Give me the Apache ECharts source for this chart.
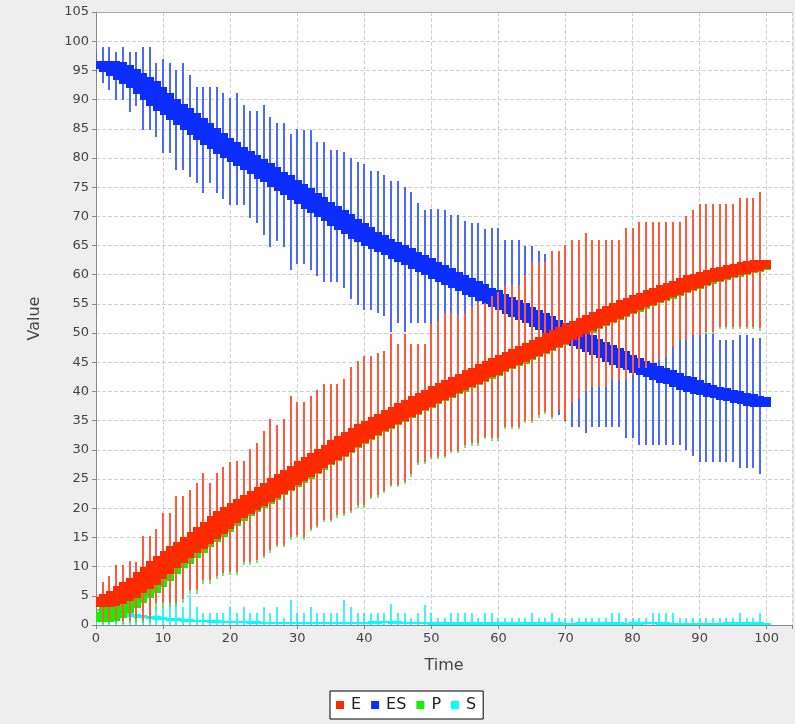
<!DOCTYPE html>
<html>
<head>
<meta charset="utf-8">
<script src="https://cdn.jsdelivr.net/npm/echarts@6/dist/echarts.min.js"></script>
<style>
html,body{margin:0;padding:0;background:#eeeeee;}
#chart{width:795px;height:724px;}
</style>
</head>
<body>
<div id="chart"></div>
<script>
const time = [0,1,2,3,4,5,6,7,8,9,10,11,12,13,14,15,16,17,18,19,20,21,22,23,24,25,26,27,28,29,30,31,32,33,34,35,36,37,38,39,40,41,42,43,44,45,46,47,48,49,50,51,52,53,54,55,56,57,58,59,60,61,62,63,64,65,66,67,68,69,70,71,72,73,74,75,76,77,78,79,80,81,82,83,84,85,86,87,88,89,90,91,92,93,94,95,96,97,98,99,100];

const E_mean = [3.7,3.9,4.2,4.7,5.3,6.0,6.7,7.5,8.4,9.4,
 10.3,11.2,12.0,12.9,13.7,14.5,15.4,16.2,17.1,18.0,
 18.9,19.6,20.3,21.0,21.7,22.4,23.1,23.8,24.6,25.3,
 26.0,26.7,27.5,28.2,28.9,29.6,30.3,31.1,31.8,32.5,
 33.2,33.8,34.4,35.0,35.6,36.2,36.8,37.4,38.0,38.6,
 39.2,39.7,40.3,40.8,41.4,41.9,42.4,43.0,43.5,44.1,
 44.6,45.1,45.6,46.2,46.7,47.2,47.7,48.3,48.8,49.4,
 49.9,50.4,50.9,51.5,52.0,52.5,53.0,53.5,54.0,54.5,
 55.0,55.4,55.9,56.3,56.7,57.2,57.6,58.0,58.4,58.9,
 59.3,59.6,59.9,60.2,60.5,60.8,61.1,61.3,61.6,61.8,
 62.0];
const E_low = [2.0,0.6,0.6,0.8,0.6,0.8,1.0,0.8,1.0,3.8,
 3.8,3.8,3.8,4.5,6.0,6.0,7.7,7.7,8.4,8.9,
 9.1,9.1,10.8,10.8,11.1,11.8,12.8,13.7,13.7,15.0,
 15.4,15.0,16.5,17.0,18.0,18.0,18.8,19.0,19.5,20.5,
 20.5,22.0,22.2,23.0,24.0,24.0,24.5,25.8,27.8,28.0,
 28.8,28.8,29.0,29.8,29.8,30.8,31.2,31.2,32.2,32.0,
 32.0,34.0,34.0,34.0,35.0,35.0,35.9,36.5,35.7,36.8,
 35.1,38.0,38.8,40.0,40.8,40.8,40.8,42.0,42.0,42.0,
 42.8,44.0,44.0,44.8,45.4,45.9,47.7,48.8,48.8,49.7,
 49.7,50.2,50.2,51.1,51.1,51.1,51.1,51.1,51.1,50.8,
 62.0];
const E_high = [5.5,7.4,8.4,10.3,10.3,11.0,10.8,15.2,15.2,16.4,
 19.2,19.2,22.1,22.1,23.2,24.3,26.0,24.3,26.0,27.0,
 28.0,28.1,28.1,30.2,31.2,33.2,35.2,34.2,35.2,39.2,
 38.2,38.2,39.2,40.2,41.2,41.2,41.2,42.2,44.2,45.2,
 46.1,46.1,46.6,47.0,49.8,48.2,49.8,48.2,48.2,48.2,
 51.5,52.0,53.4,53.4,53.1,53.4,54.4,55.2,55.2,56.4,
 57.0,58.0,58.2,58.2,60.0,62.2,62.2,62.2,64.1,64.1,
 65.1,66.0,66.0,67.1,66.0,66.0,66.0,66.0,66.0,68.0,
 68.0,69.1,69.1,69.1,69.1,69.1,69.1,69.1,70.0,71.1,
 72.1,72.1,72.1,72.1,72.1,72.1,73.1,73.1,73.1,74.2,
 62.0];

const ES_mean = [96.0,96.0,95.8,95.3,94.7,94.0,93.3,92.5,91.6,90.6,
 89.5,88.7,87.9,87.1,86.2,85.4,84.5,83.7,82.9,82.1,
 81.3,80.6,79.9,79.2,78.5,77.8,77.0,76.4,75.6,74.9,
 74.2,73.4,72.7,71.9,71.2,70.5,69.8,69.0,68.3,67.5,
 66.8,66.2,65.6,65.0,64.5,63.9,63.3,62.7,62.2,61.6,
 61.0,60.5,59.9,59.4,58.8,58.3,57.8,57.2,56.7,56.1,
 55.6,55.0,54.5,53.9,53.4,52.8,52.3,51.7,51.2,50.6,
 50.1,49.5,49.0,48.4,47.9,47.4,46.8,46.3,45.7,45.2,
 44.7,44.3,43.8,43.4,43.0,42.6,42.1,41.8,41.3,40.9,
 40.5,40.2,40.0,39.7,39.4,39.1,38.9,38.6,38.4,38.1,
 37.9];
const ES_low = [94.5,92.9,91.7,89.9,89.9,87.9,88.9,84.8,84.8,83.6,
 80.8,80.8,77.9,77.9,76.8,75.7,74.0,75.7,74.0,73.0,
 72.0,71.9,71.9,69.8,68.8,66.8,64.8,65.8,64.8,60.8,
 61.8,61.8,60.8,59.8,58.8,58.8,58.8,57.8,55.8,54.8,
 53.9,53.9,53.4,53.0,50.2,51.8,50.2,51.8,51.8,51.8,
 48.5,48.0,46.6,46.6,46.9,46.6,45.6,44.8,44.8,43.6,
 43.0,42.0,41.8,41.8,40.0,37.8,37.8,37.8,35.9,35.9,
 34.9,34.0,34.0,32.9,34.0,34.0,34.0,34.0,34.0,32.0,
 32.0,30.9,30.9,30.9,30.9,30.9,30.9,30.9,30.0,28.9,
 27.9,27.9,27.9,27.9,27.9,27.9,26.9,26.9,26.9,25.8,
 37.9];
const ES_high = [98.5,99.0,99.0,98.1,99.0,98.1,98.1,99.0,99.0,96.2,
 97.0,96.2,95.1,96.3,94.2,92.2,92.2,92.2,92.2,91.2,
 90.2,91.2,89.0,88.1,88.1,89.0,87.0,86.0,86.0,84.1,
 85.0,84.8,84.8,82.8,82.8,81.3,81.3,81.0,80.0,79.3,
 79.0,77.8,77.8,77.0,76.0,76.0,75.0,74.2,72.2,71.0,
 71.2,71.2,71.0,70.2,70.2,69.2,68.8,68.8,67.8,68.0,
 68.0,66.0,66.0,66.0,65.0,65.0,64.1,63.5,63.0,62.5,
 62.0,61.5,60.5,60.0,59.2,59.0,58.5,57.8,57.5,57.0,
 56.8,55.8,55.5,55.0,54.5,54.0,52.5,51.2,51.0,50.3,
 50.3,49.8,49.8,48.9,48.9,48.9,49.7,49.7,49.1,49.2,
 37.9];

const P_mean = [1.0,1.2,1.7,2.6,3.4,4.2,5.1,6.0,7.0,8.1,
 9.2,10.2,11.0,12.0,12.9,13.8,14.7,15.6,16.5,17.5,
 18.4,19.1,19.8,20.5,21.3,22.0,22.7,23.4,24.2,24.9,
 25.6,26.4,27.1,27.9,28.6,29.3,30.0,30.8,31.5,32.2,
 32.9,33.5,34.1,34.7,35.3,35.9,36.5,37.1,37.7,38.3,
 38.9,39.4,40.0,40.5,41.1,41.6,42.1,42.7,43.2,43.8,
 44.3,44.8,45.3,45.9,46.4,46.9,47.4,48.0,48.5,49.1,
 49.6,50.1,50.6,51.2,51.7,52.2,52.7,53.2,53.7,54.2,
 54.7,55.1,55.6,56.0,56.4,56.9,57.3,57.7,58.1,58.6,
 59.0,59.3,59.6,59.9,60.2,60.5,60.8,61.0,61.3,61.5,
 61.7];
const P_low = [0.5,0.2,0.2,0.3,0.2,0.3,0.4,0.3,0.4,2.8,
 2.9,3.0,3.0,3.7,5.3,5.3,7.0,7.1,7.8,8.4,
 8.6,8.6,10.3,10.3,10.7,11.4,12.4,13.3,13.3,14.6,
 15.0,14.6,16.1,16.6,17.6,17.6,18.4,18.6,19.1,20.1,
 20.1,21.6,21.8,22.6,23.6,23.6,24.1,25.4,27.4,27.6,
 28.4,28.4,28.6,29.4,29.4,30.4,30.6,30.6,31.8,31.6,
 31.6,33.6,33.6,33.6,34.6,34.6,35.5,36.1,35.3,36.4,
 34.7,37.6,38.4,39.6,40.4,40.4,40.4,41.6,41.6,41.6,
 42.4,43.6,43.6,44.4,45.0,45.5,47.3,48.4,48.4,49.3,
 49.3,49.8,49.8,50.7,50.7,50.7,50.7,50.7,50.7,50.4,
 61.7];
const P_high = [3.0,5.0,6.2,8.4,8.6,9.4,9.4,13.9,14.0,15.3,
 18.2,18.3,21.3,21.3,22.5,23.6,25.4,23.7,25.5,26.5,
 27.5,27.6,27.6,29.7,30.8,32.8,34.8,33.8,34.8,38.8,
 37.8,37.8,38.8,39.8,40.8,40.8,40.8,41.8,43.8,44.8,
 45.7,45.7,46.2,46.6,49.4,47.8,49.4,47.8,47.8,47.8,
 51.1,51.6,53.0,53.0,52.7,53.0,54.0,54.8,54.8,56.0,
 56.6,57.6,57.8,57.8,59.6,61.8,61.8,61.8,63.7,63.7,
 64.7,65.6,65.6,66.7,65.6,65.6,65.6,65.6,65.6,67.6,
 67.6,68.7,68.7,68.7,68.7,68.7,68.7,68.7,69.6,70.7,
 71.7,71.7,71.7,71.7,71.7,71.7,72.7,72.7,72.7,73.8,
 61.7];

const S_mean = [2.6,2.5,2.3,2.1,1.9,1.7,1.55,1.4,1.3,1.2,
 1.05,0.95,0.9,0.8,0.75,0.7,0.65,0.6,0.55,0.5,
 0.5,0.45,0.45,0.45,0.4,0.4,0.4,0.4,0.35,0.35,
 0.35,0.35,0.35,0.35,0.3,0.3,0.3,0.3,0.3,0.3,
 0.3,0.35,0.45,0.45,0.45,0.4,0.3,0.3,0.3,0.3,
 0.3,0.25,0.3,0.3,0.25,0.3,0.3,0.25,0.3,0.3,
 0.25,0.25,0.3,0.25,0.25,0.3,0.25,0.25,0.3,0.25,
 0.25,0.25,0.25,0.3,0.25,0.25,0.3,0.3,0.25,0.25,
 0.25,0.3,0.3,0.3,0.3,0.25,0.25,0.25,0.25,0.25,
 0.25,0.25,0.25,0.25,0.25,0.3,0.25,0.25,0.3,0.25,
 0.25];
const S_low = [0,0,0,0,0,0,0,0,0,0,
 0,0,0,0,0,0,0,0,0,0,
 0,0,0,0,0,0,0,0,0,0,
 0,0,0,0,0,0,0,0,0,0,
 0,0,0,0,0,0,0,0,0,0,
 0,0,0,0,0,0,0,0,0,0,
 0,0,0,0,0,0,0,0,0,0,
 0,0,0,0,0,0,0,0,0,0,
 0,0,0,0,0,0,0,0,0,0,
 0,0,0,0,0,0,0,0,0,0,
 0.25];
const S_high = [3.0,4.2,4.5,4.8,4.5,4.0,4.2,3.8,4.0,3.1,
 3.1,4.0,4.0,3.1,5.1,3.1,2.1,2.1,2.1,2.1,
 3.1,2.1,3.1,2.1,2.1,3.1,2.1,3.1,1.25,4.2,
 2.1,2.1,3.1,2.1,2.1,2.1,2.1,4.2,3.1,2.1,
 2.1,2.1,2.1,2.1,3.6,2.1,2.1,1.2,2.1,3.5,
 2.1,1.2,1.2,2.1,2.1,2.1,2.1,1.2,2.1,2.1,
 1.2,1.2,1.2,1.2,1.2,2.1,1.2,1.2,2.1,1.2,
 1.2,1.2,1.2,1.2,1.2,1.2,1.2,2.1,2.1,1.2,
 1.2,1.2,1.2,2.1,2.1,2.1,2.1,1.2,1.2,1.2,
 1.2,1.2,1.2,1.2,1.2,1.2,2.1,1.2,1.2,2.1,
 0.25];

const seriesNames = ['E','ES','P','S'];
const xTicks = [0,10,20,30,40,50,60,70,80,90,100];

// build [t, mean, low, high, bandMin, bandMax] from the arrays
function build(mean, low, high, k) {
  return time.map(function (t, i) {
    let mn = mean[i], mx = mean[i];
    for (let j = Math.max(0, i - k); j <= Math.min(mean.length - 1, i + k); j++) {
      mn = Math.min(mn, mean[j]); mx = Math.max(mx, mean[j]);
    }
    return [t, mean[i], low[i], high[i], mn, mx];
  });
}

function makeRender(color, wColor, h, lw) {
  return function (params, api) {
    const t = api.value(0), lo = api.value(2), hi = api.value(3);
    const bmin = api.value(4), bmax = api.value(5);
    const pLo = api.coord([t, lo]), pHi = api.coord([t, hi]);
    const pTop = api.coord([t, bmax]), pBot = api.coord([t, bmin]);
    const w = api.size([1, 0])[0];
    const children = [];
    if (hi > lo) {
      const xw = Math.round(pLo[0]);
      children.push({type: 'line', shape: {x1: xw, y1: Math.round(pLo[1]), x2: xw, y2: Math.round(pHi[1])},
        style: {stroke: wColor, lineWidth: lw}});
    }
    const x0 = Math.round(pTop[0] - w / 2), x1 = Math.round(pTop[0] + w / 2) + 1;
    const y0 = Math.round(pTop[1] - h / 2), y1 = Math.round(pBot[1] + h / 2);
    children.push({type: 'rect', shape: {x: x0, y: y0, width: x1 - x0, height: y1 - y0},
      style: {fill: color}});
    return {type: 'group', children: children};
  };
}

const colE = '#ff2a00', colES = '#0c2dff', colP = '#14f000', colS = '#00ffff';

function mkSeries(name, data, color, wColor, h, lw) {
  return {
    name: name, type: 'custom', clip: true,
    itemStyle: {color: color},
    encode: {x: 0, y: [1, 2, 3]},
    renderItem: makeRender(color, wColor, h, lw),
    data: data
  };
}

const chart = echarts.init(document.getElementById('chart'), null, {renderer: 'canvas'});
chart.setOption({
  animation: false,
  backgroundColor: '#eeeeee',
  grid: {left: 96, right: 0, top: 12, bottom: 99, show: true, backgroundColor: '#ffffff', borderWidth: 0},
  xAxis: [{
    type: 'value', min: 0, max: 103.77, interval: 10,
    name: 'Time', nameLocation: 'middle', nameGap: 33,
    nameTextStyle: {fontFamily: 'DejaVu Sans', fontSize: 16, color: '#444'},
    axisLine: {lineStyle: {color: '#888888'}},
    axisTick: {length: 4, lineStyle: {color: '#888888'}},
    axisLabel: {fontFamily: 'DejaVu Sans', fontSize: 13, color: '#444', margin: 7,
      formatter: function (v) { return xTicks.indexOf(v) >= 0 ? String(v) : ''; }},
    splitLine: {show: true, lineStyle: {color: '#d0d0d0', type: [4, 2]}}
  }, {
    type: 'value', position: 'top', min: 0, max: 103.77,
    axisLine: {show: true, lineStyle: {color: '#aaaaaa'}},
    axisTick: {show: false}, axisLabel: {show: false}, splitLine: {show: false}
  }],
  yAxis: {
    type: 'value', min: 0, max: 105, interval: 5,
    name: 'Value', nameLocation: 'middle', nameGap: 53,
    nameTextStyle: {fontFamily: 'DejaVu Sans', fontSize: 16, color: '#444'},
    axisLine: {show: true, lineStyle: {color: '#888888'}},
    axisTick: {show: true, length: 4, lineStyle: {color: '#888888'}},
    axisLabel: {fontFamily: 'DejaVu Sans', fontSize: 13, color: '#444', margin: 7},
    splitLine: {show: true, lineStyle: {color: '#d0d0d0', type: [4, 2]}}
  },
  legend: {
    data: seriesNames, left: 330, top: 691, icon: 'rect', itemWidth: 8, itemHeight: 8, itemGap: 10,
    padding: [6, 7, 6, 6], borderColor: '#000', borderWidth: 1, backgroundColor: '#fff',
    textStyle: {fontFamily: 'DejaVu Sans', fontSize: 16, color: '#222', padding: [0, 0, 0, 2]}
  },
  series: [
    mkSeries('S', build(S_mean, S_low, S_high, 1), colS, '#00f0ff', 2, 1.5),
    mkSeries('P', build(P_mean, P_low, P_high, 2), colP, '#3ce23c', 6, 1.5),
    mkSeries('ES', build(ES_mean, ES_low, ES_high, 2), colES, '#4a6aff', 7, 2),
    mkSeries('E', build(E_mean, E_low, E_high, 2), colE, '#ff5a3c', 7, 2)
  ]
});
</script>
</body>
</html>
